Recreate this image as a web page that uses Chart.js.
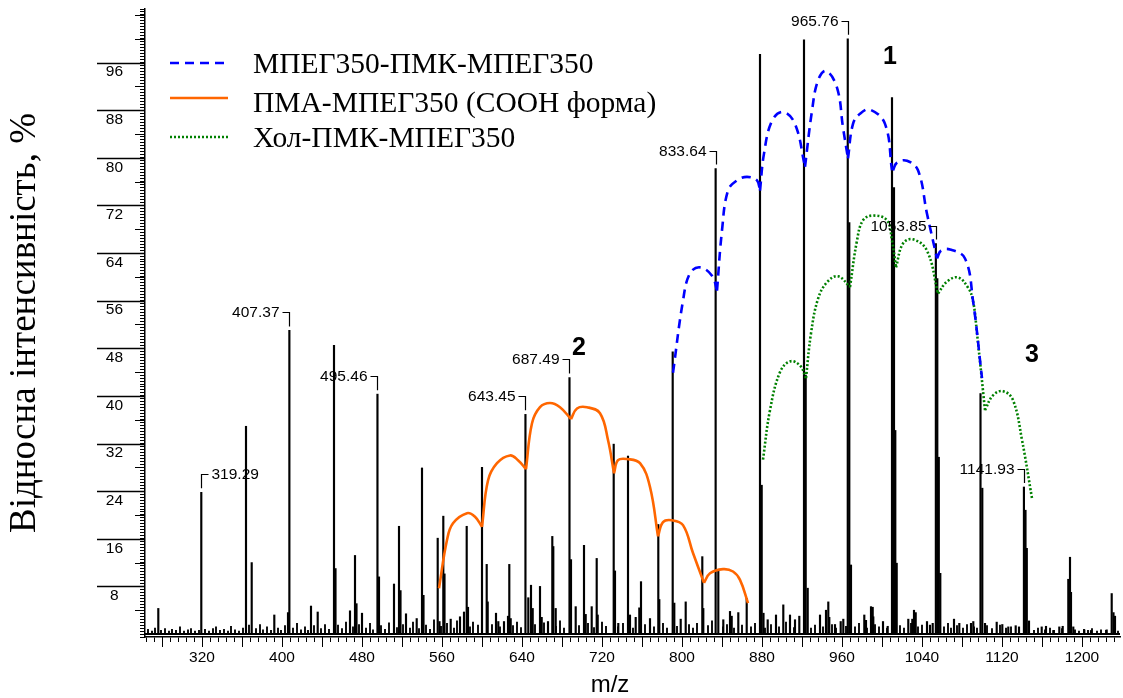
<!DOCTYPE html>
<html>
<head>
<meta charset="utf-8">
<script src="https://cdn.jsdelivr.net/npm/chart.js@4.4.0/dist/chart.umd.min.js"></script>
<style>
  html, body { margin: 0; padding: 0; background: #fff; }
</style>
</head>
<body>
<canvas id="chart" width="1123" height="698"></canvas>
<script>
// основні піки спектра (m/z, інтенсивність %)
const peakMz = [276.3, 319.29, 364, 369.7, 392.3, 406, 407.37, 429, 435.7, 452, 453.5, 468, 473, 474.5, 480,
  495.46, 497, 512, 517, 518.5, 524, 534.7, 540, 541.5, 555.7, 557.5, 561.3, 562.5, 568.7, 578, 582, 584.7, 586,
  600, 604.7, 605.7, 614, 616.3, 622, 626, 627.3, 628.7, 643.45, 646.3, 649, 650.7, 658, 659.7, 666, 670.3, 671.3,
  673.7, 687.49, 689, 693.7, 702, 703.7, 709.7, 714.7, 715.7, 731.7, 733, 736.3, 746, 748, 753.7, 757.3, 759, 768,
  776.3, 777.3, 790.7, 792.3, 798.7, 803.7, 820.3, 821.3, 833.64, 836.3, 841.3, 848, 849.7, 856.3, 864.7, 878,
  879.7, 881.5, 885.7, 894, 901.3, 908, 913, 917.3, 922, 923.7, 925.7, 938, 944, 946.3, 947.3, 953, 958.7, 961.3,
  965.76, 967.3, 969, 982.3, 984, 989, 990.7, 991.3, 1001, 1005.7, 1010, 1012, 1013.3, 1014.7, 1026.3, 1030.3,
  1032, 1033.7, 1045, 1048, 1050.7, 1053.85, 1055.3, 1056.8, 1058.3, 1072, 1077.3, 1089, 1091.3, 1098.5, 1100.3,
  1103, 1114.7, 1120.3, 1126.3, 1133.7, 1137, 1141.93, 1143.5, 1144.8, 1147, 1159.7, 1164, 1171.3, 1177.3, 1180.7,
  1186.3, 1188, 1189, 1191.3, 1202.3, 1209, 1224.7, 1229.7, 1231.5, 1233];
const peakInt = [4.3, 23.8, 34.9, 12.0, 3.2, 3.6, 51.0, 4.7, 3.7, 48.5, 11.0, 3.9, 13.2, 5.1, 3.5,
  40.3, 9.6, 8.4, 18.1, 7.3, 3.4, 2.6, 27.9, 6.5, 16.1, 2.1, 19.8, 10.1, 2.5, 2.9, 3.7, 18.1, 4.5,
  28.0, 11.7, 5.4, 3.5, 2.1, 2.1, 3.0, 11.7, 2.6, 36.9, 6.1, 8.2, 4.3, 8.0, 2.8, 2.1, 16.4, 14.7,
  4.3, 43.1, 12.5, 4.6, 14.9, 3.3, 4.6, 12.7, 3.2, 31.9, 10.6, 1.8, 29.9, 3.2, 2.8, 4.4, 8.8, 2.6,
  18.4, 5.8, 47.4, 5.2, 2.5, 5.4, 13.0, 4.3, 78.2, 10.8, 2.4, 3.8, 3.0, 3.6, 6.0, 97.4,
  25.0, 3.5, 2.4, 3.2, 4.9, 3.2, 2.4, 3.0, 99.8, 43.5, 7.7, 3.2, 4.0, 5.4, 2.8, 1.6, 2.1, 2.5,
  100, 69.1, 11.6, 3.2, 2.3, 4.6, 4.5, 2.9, 2.1, 1.3, 90.1, 75.0, 34.2, 11.9, 2.5, 2.5,
  4.0, 3.6, 2.1, 1.5, 1.8, 65.6, 59.7, 29.7, 10.2, 2.5, 1.8, 1.8, 2.1, 40.4, 24.5,
  1.8, 2.0, 1.6, 1.2, 1.4, 1.2, 24.7, 20.8, 14.4, 2.2, 1.2, 1.3, 0.6, 1.2, 1.3,
  9.2, 12.9, 7.0, 1.2, 0.7, 0.6, 0.7, 6.8, 3.6, 3.0];

// дрібний шум біля базової лінії
const noiseMz = [266, 270, 273, 279, 283, 287, 290, 294, 298, 302, 306, 309, 313, 317, 323, 327, 331, 334, 338, 342,
  346, 349, 353, 357, 361, 367, 374, 378, 381, 385, 389, 396, 399, 403, 411, 415, 419, 423, 426, 432, 439, 443, 447,
  456, 460, 464, 471, 477, 484, 488, 491, 499, 503, 507, 515, 521, 528, 531, 537, 544, 548, 552, 559, 565, 572, 575,
  588, 591, 596, 610, 618, 631, 635, 639, 653, 662, 674, 678, 682, 697, 706, 712, 720, 724, 736, 741, 751, 763, 772,
  781, 785, 795, 807, 811, 815, 826, 830, 841, 845, 852, 860, 869, 873, 883, 889, 897, 904, 912, 929, 933, 941, 950,
  954, 964, 973, 977, 985, 993, 997, 1005, 1018, 1022, 1029, 1036, 1040, 1048, 1062, 1066, 1069, 1075, 1081, 1085,
  1092, 1095, 1105, 1110, 1118, 1124, 1129, 1137, 1147, 1152, 1156, 1163, 1168, 1172, 1180, 1193, 1197, 1202, 1206,
  1210, 1215, 1219, 1224, 1233, 1236];
const noiseInt = [0.8, 0.5, 1.0, 0.6, 0.9, 0.5, 0.8, 0.6, 1.2, 0.5, 0.7, 0.9, 0.5, 0.6, 0.8, 0.5, 0.9, 1.2, 0.6, 0.8,
  0.5, 1.3, 0.7, 0.5, 1.0, 1.5, 0.9, 1.6, 0.7, 1.2, 0.6, 1.0, 0.6, 1.4, 1.0, 1.8, 0.7, 1.2, 0.6, 1.4, 0.9, 1.6, 0.8,
  1.5, 0.9, 2.0, 1.2, 1.6, 1.0, 1.8, 0.7, 1.4, 0.8, 1.9, 1.1, 1.6, 1.0, 2.0, 0.9, 1.5, 0.8, 2.4, 1.3, 1.8, 1.0, 2.2,
  1.2, 2.0, 1.5, 1.6, 1.2, 1.4, 2.0, 1.1, 1.6, 1.9, 1.3, 2.2, 1.0, 1.4, 1.8, 1.1, 2.0, 1.3, 1.2, 1.8, 1.0, 1.6, 1.2,
  1.8, 1.0, 1.3, 1.6, 1.0, 1.8, 1.4, 2.2, 1.2, 1.6, 1.0, 1.5, 1.2, 1.8, 1.0, 1.6, 1.2, 2.0, 1.1, 1.0, 1.5, 1.2, 1.6,
  1.0, 1.3, 1.2, 1.8, 1.0, 1.6, 1.2, 1.0, 1.4, 1.0, 1.8, 1.2, 1.5, 1.0, 1.2, 1.8, 1.0, 1.4, 1.0, 1.6,
  1.2, 1.0, 1.4, 0.9, 1.5, 1.0, 1.2, 0.8, 0.9, 0.6, 1.0, 0.7, 1.0, 0.6, 0.9, 0.7, 0.5, 0.8, 0.6,
  0.9, 0.5, 0.7, 0.6, 0.8, 0.5];

// огинаючі серій: кожна дуга - між двома сусідніми піками
const pegArcs = [
  [[791, 43.9], [801, 56.0], [808, 60.6], [818, 61.6], [830, 60.2], [835, 57.7]],
  [[835, 57.7], [840, 67.8], [846, 74.5], [855, 76.2], [865, 76.8], [875, 76.2], [878, 74.5]],
  [[878, 74.5], [882, 80.7], [890, 86.2], [901, 87.7], [913, 85.7], [923, 78.5]],
  [[923, 78.5], [930, 87.9], [936, 93.0], [944, 94.6], [955, 91.8], [961, 85.1], [966, 79.9]],
  [[966, 79.9], [971, 85.7], [978, 87.4], [988, 88.1], [1003, 85.7], [1010, 77.9]],
  [[1011, 77.9], [1015, 79.2], [1025, 79.5], [1036, 77.9], [1045, 70.6], [1055, 63.1]],
  [[1055, 63.1], [1059, 64.4], [1068, 64.6], [1083, 63.1], [1091, 56.0], [1100, 43.0]]
];
const pmaArcs = [
  [[557, 7.7], [565, 15.8], [571, 18.6], [585, 20.3], [593, 19.7], [600, 18.0]],
  [[600, 18.0], [606, 25.8], [615, 28.7], [628, 30.0], [636, 29.2], [644, 27.7]],
  [[644, 27.7], [650, 35.4], [658, 38.1], [668, 38.8], [678, 38.1], [689, 36.1]],
  [[689, 36.1], [695, 37.9], [705, 38.1], [718, 37.1], [726, 32.6], [732, 27.0]],
  [[732, 27.0], [736, 29.2], [745, 29.4], [758, 28.7], [768, 24.7], [776, 16.4]],
  [[776, 16.4], [781, 18.8], [790, 19.1], [801, 18.3], [811, 13.6], [822, 8.6]],
  [[822, 8.6], [828, 10.2], [841, 10.9], [851, 10.5], [858, 9.1], [866, 5.2]]
];
const cholArcs = [
  [[881, 29.3], [888, 37.6], [898, 44.0], [908, 45.8], [918, 45.1], [924, 43.0]],
  [[924, 43.0], [929, 50.5], [936, 56.3], [945, 59.1], [956, 60.1], [968, 58.3]],
  [[968, 58.3], [975, 66.1], [981, 69.5], [991, 70.3], [1005, 69.5], [1010, 66.1], [1014, 61.6]],
  [[1014, 61.6], [1021, 65.6], [1031, 66.3], [1045, 64.4], [1056, 57.2]],
  [[1056, 57.2], [1065, 59.2], [1076, 59.9], [1086, 58.2], [1091, 56.0], [1095, 50.5], [1103, 37.6]],
  [[1103, 37.6], [1111, 40.1], [1121, 40.8], [1131, 39.3], [1140, 32.6], [1150, 22.8]]
];

const seriesNames = ['МПЕГ350-ПМК-МПЕГ350', 'ПМА-МПЕГ350 (COOH форма)', 'Хол-ПМК-МПЕГ350'];
const labeledMz = [319.29, 407.37, 495.46, 643.45, 687.49, 833.64, 965.76, 1053.85, 1141.93];
const labelSide = ['right', 'left', 'left', 'left', 'left', 'left', 'left', 'left', 'left'];
const markText = ['1', '2', '3'];
const markMz = [1008, 697, 1150];
const markInt = [97, 48, 46.8];

const toXY = (xs, ys) => xs.map((x, i) => ({ x: x, y: ys[i] }));
// розрив між дугами, щоб у впадинах був злам
function arcsToXY(arcs) {
  const out = [];
  arcs.forEach((arc, k) => {
    if (k) out.push({ x: arc[0][0], y: null });
    arc.forEach(p => out.push({ x: p[0], y: p[1] }));
  });
  return out;
}

const sans = 'Liberation Sans, Arial, sans-serif';
const serif = 'Liberation Serif, Times New Roman, serif';

const decor = {
  id: 'decor',
  afterDraw(chart) {
    const { ctx, chartArea: { left, right, top, bottom }, scales: { x, y } } = chart;
    ctx.save();
    ctx.strokeStyle = '#000';
    ctx.fillStyle = '#000';

    // базова лінія шуму
    ctx.lineWidth = 2;
    ctx.beginPath();
    ctx.moveTo(left, y.getPixelForValue(0));
    ctx.lineTo(right, y.getPixelForValue(0));
    ctx.stroke();

    // великі поділки осі Y (довгі лише до 96)
    for (let v = 4; v <= 104; v += 4) {
      const major = v % 8 === 0 && v <= 96;
      const py = Math.round(y.getPixelForValue(v)) + 0.5;
      ctx.lineWidth = major ? 1.3 : 1;
      ctx.beginPath();
      ctx.moveTo(major ? left - 48 : left - 10, py);
      ctx.lineTo(left, py);
      ctx.stroke();
    }
    // великі поділки осі X
    ctx.lineWidth = 1;
    for (let v = 280; v <= x.max; v += 40) {
      const px = Math.round(x.getPixelForValue(v)) + 0.5;
      ctx.beginPath();
      ctx.moveTo(px, bottom);
      ctx.lineTo(px, bottom + 10);
      ctx.stroke();
    }

    // підписи піків з кутиками
    ctx.font = '15.5px ' + sans;
    ctx.textBaseline = 'middle';
    ctx.lineWidth = 1.2;
    labeledMz.forEach((mz, i) => {
      const h = peakInt[peakMz.indexOf(mz)];
      const px = Math.round(x.getPixelForValue(mz)) + 0.5;
      const py = y.getPixelForValue(h);
      const ly = Math.round(py - 18) + 0.5;
      const dir = labelSide[i] === 'left' ? -1 : 1;
      ctx.beginPath();
      ctx.moveTo(px, py - 4);
      ctx.lineTo(px, ly);
      ctx.lineTo(px + dir * 7, ly);
      ctx.stroke();
      ctx.textAlign = dir < 0 ? 'right' : 'left';
      ctx.fillText(mz.toFixed(2), px + dir * 10, ly);
    });

    // номери серій
    ctx.font = 'bold 25px ' + sans;
    ctx.textAlign = 'center';
    markText.forEach((t, i) => {
      ctx.fillText(t, x.getPixelForValue(markMz[i]), y.getPixelForValue(markInt[i]));
    });

    // легенда
    const rows = [top + 54, top + 89, top + 128];
    const textRows = [top + 54, top + 93, top + 128];
    ctx.font = '29.5px ' + serif;
    ctx.textAlign = 'left';
    ctx.textBaseline = 'alphabetic';
    [2, 3, 4].forEach((di, k) => {
      const ds = chart.data.datasets[di];
      ctx.strokeStyle = ds.borderColor;
      ctx.lineWidth = ds.borderWidth;
      ctx.setLineDash(ds.borderDash || []);
      ctx.beginPath();
      ctx.moveTo(left + 25, rows[k]);
      ctx.lineTo(left + 83, rows[k]);
      ctx.stroke();
      ctx.setLineDash([]);
      ctx.fillStyle = '#000';
      ctx.fillText(ds.label, left + 108, textRows[k] + 10);
    });

    // підпис осі X
    ctx.font = '24px ' + sans;
    ctx.textAlign = 'center';
    ctx.fillText('m/z', 610, 692);
    ctx.restore();
  }
};

const config = {
  type: 'bar',
  data: {
    datasets: [{
      type: 'bar',
      label: 'peaks',
      data: toXY(peakMz, peakInt),
      backgroundColor: '#000',
      barThickness: 1.5,
      grouped: false,
      order: 3
    }, {
      type: 'bar',
      label: 'noise',
      data: toXY(noiseMz, noiseInt),
      backgroundColor: '#000',
      barThickness: 1.2,
      grouped: false,
      order: 4
    }, {
      type: 'line',
      label: seriesNames[0],
      data: arcsToXY(pegArcs),
      borderColor: '#0000ff',
      borderWidth: 2.6,
      borderDash: [9, 6],
      pointRadius: 0,
      tension: 0.4,
      spanGaps: false,
      order: 1
    }, {
      type: 'line',
      label: seriesNames[1],
      data: arcsToXY(pmaArcs),
      borderColor: '#ff6600',
      borderWidth: 2.6,
      pointRadius: 0,
      tension: 0.4,
      spanGaps: false,
      order: 1
    }, {
      type: 'line',
      label: seriesNames[2],
      data: arcsToXY(cholArcs),
      borderColor: '#008000',
      borderWidth: 2.6,
      borderDash: [2, 2],
      pointRadius: 0,
      tension: 0.4,
      spanGaps: false,
      order: 1
    }]
  },
  options: {
    responsive: false,
    animation: false,
    devicePixelRatio: 1,
    layout: { padding: { top: 9, right: 3, left: 0, bottom: 0 } },
    plugins: { legend: { display: false }, tooltip: { enabled: false } },
    scales: {
      x: {
        type: 'linear',
        min: 263,
        max: 1238,
        offset: false,
        border: { display: true, color: '#000', width: 1.5 },
        grid: { drawOnChartArea: false, tickLength: 5, color: '#000', offset: false },
        ticks: {
          stepSize: 8, autoSkip: false, includeBounds: false, maxRotation: 0, padding: 6,
          color: '#000', font: { family: sans, size: 15.5 },
          callback: v => (v % 80 === 0 ? String(v) : '')
        },
        afterFit: s => { s.height = 61; s.paddingLeft = 0; s.paddingRight = 0; }
      },
      y: {
        min: -0.5,
        max: 105,
        border: { display: true, color: '#000', width: 1.5 },
        grid: { drawOnChartArea: false, tickLength: 5, color: '#000' },
        ticks: {
          stepSize: 0.5, autoSkip: false, labelOffset: 9.5, padding: 17, crossAlign: 'center',
          color: '#000', font: { family: sans, size: 15.5 },
          callback: v => (v > 0 && v <= 96 && v % 8 === 0 ? String(v) : '')
        },
        title: {
          display: true,
          text: 'Відносна інтенсивність, %',
          color: '#000',
          font: { family: serif, size: 37 },
          padding: { top: 3, bottom: 0 }
        },
        afterFit: s => { s.width = 145; s.paddingTop = 0; s.paddingBottom = 0; }
      }
    }
  },
  plugins: [decor]
};

const myChart = new Chart(document.getElementById('chart'), config);
</script>
</body>
</html>
